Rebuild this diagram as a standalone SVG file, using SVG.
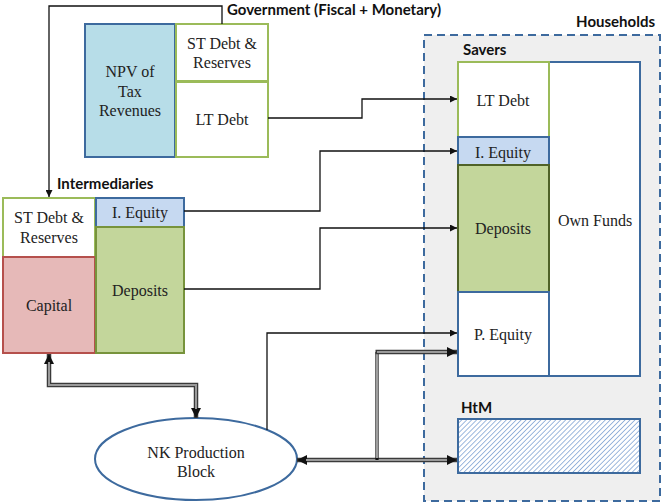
<svg xmlns="http://www.w3.org/2000/svg" width="662" height="503" viewBox="0 0 662 503">
<defs>
<style>
.lbl{font-family:Lato,"Liberation Sans",sans-serif;font-weight:700;font-size:15px;fill:#111}
.thin{fill:none;stroke:#111;stroke-width:1.3}
.dblo{fill:none;stroke:#3a3a3a;stroke-width:4.5}
.dbli{fill:none;stroke:#9a9a9a;stroke-width:2}
.blue{stroke:#3d6a9e;stroke-width:2}
.green{stroke:#9bbb59;stroke-width:2}
</style>
<marker id="a" viewBox="0 0 10 10" refX="10" refY="5" markerWidth="8" markerHeight="7" markerUnits="userSpaceOnUse" orient="auto-start-reverse"><path d="M0,0 L10,5 L0,10 z" fill="#111"/></marker>
<marker id="b" viewBox="0 0 10 10" refX="10" refY="5" markerWidth="11" markerHeight="10" markerUnits="userSpaceOnUse" orient="auto-start-reverse"><path d="M0,0 L10,5 L0,10 z" fill="#111"/></marker>
<pattern id="hatch" width="3.5" height="3.5" patternUnits="userSpaceOnUse" patternTransform="rotate(45)"><rect width="3.5" height="3.5" fill="#ffffff"/><line x1="0" y1="0" x2="0" y2="3.5" stroke="#86a8d6" stroke-width="1.6"/></pattern>
</defs>
<rect width="662" height="503" fill="#ffffff"/>

<g id="households">
<rect x="424" y="35" width="236" height="466" fill="#efefef" stroke="#3d6a9e" stroke-width="2" stroke-dasharray="8 5"/>
<text class="lbl" x="655" y="27" text-anchor="end">Households</text>
</g>

<g font-family="'Liberation Serif', 'Times New Roman', 'DejaVu Serif', serif" font-size="16" fill="#222" text-anchor="middle">
<g id="government">
<text class="lbl" x="227" y="15" text-anchor="start">Government (Fiscal + Monetary)</text>
<rect x="85" y="24" width="90" height="133" fill="#b7dde8" class="blue"/>
<text x="130" y="77">NPV of</text>
<text x="130" y="97">Tax</text>
<text x="130" y="116">Revenues</text>
<rect x="176" y="24" width="92" height="57" fill="#ffffff" class="green"/>
<text x="222" y="49">ST Debt &amp;</text>
<text x="222" y="68">Reserves</text>
<rect x="176" y="82" width="92" height="75" fill="#ffffff" class="green"/>
<text x="222" y="125">LT Debt</text>
</g>

<g id="intermediaries">
<text class="lbl" x="57" y="189" text-anchor="start">Intermediaries</text>
<rect x="3" y="198" width="92" height="59" fill="#ffffff" class="green"/>
<text x="49" y="223">ST Debt &amp;</text>
<text x="49" y="243">Reserves</text>
<rect x="3" y="257" width="92" height="96" fill="#e6b9b8" stroke="#b5504c" stroke-width="2"/>
<text x="49" y="311">Capital</text>
<rect x="96" y="198" width="88" height="29" fill="#c6d9f1" class="blue"/>
<text x="140" y="218">I. Equity</text>
<rect x="96" y="227" width="88" height="126" fill="#c3d69b" stroke="#77933c" stroke-width="2"/>
<text x="140" y="296">Deposits</text>
</g>

<g id="savers">
<text class="lbl" x="463" y="55" text-anchor="start">Savers</text>
<rect x="549" y="62" width="91" height="314" fill="#ffffff" class="blue"/>
<text x="595" y="226">Own Funds</text>
<rect x="458" y="62" width="91" height="75" fill="#ffffff" class="green"/>
<text x="503" y="106">LT Debt</text>
<rect x="458" y="137" width="91" height="28" fill="#c6d9f1" class="blue"/>
<text x="503" y="158">I. Equity</text>
<rect x="458" y="165" width="91" height="127" fill="#c3d69b" stroke="#4f6228" stroke-width="2"/>
<text x="503" y="234">Deposits</text>
<rect x="458" y="292" width="91" height="84" fill="#ffffff" class="blue"/>
<text x="503" y="340">P. Equity</text>
</g>

<g id="htm">
<text class="lbl" x="461" y="413" text-anchor="start">HtM</text>
<rect x="458" y="419" width="182" height="54" fill="url(#hatch)" class="blue"/>
</g>

<g id="nk">
<ellipse cx="196" cy="459" rx="101" ry="41" fill="#ffffff" class="blue"/>
<text x="196" y="458">NK Production</text>
<text x="196" y="477">Block</text>
</g>
</g>

<g id="connectors">
<path class="thin" d="M222,24 V6 H49 V197" marker-end="url(#a)"/>
<path class="thin" d="M268,118 H362 V99 H457" marker-end="url(#a)"/>
<path class="thin" d="M184,211 H320 V151 H457" marker-end="url(#a)"/>
<path class="thin" d="M184,289 H320 V228 H457" marker-end="url(#a)"/>
<path class="thin" d="M267,430 V333 H457" marker-end="url(#a)"/>
<path class="dblo" d="M49,354 V385 H196 V418" marker-start="url(#b)" marker-end="url(#b)"/>
<path class="dbli" d="M49,362 V385 H196 V409"/>
<path class="dblo" d="M297,460 H457" marker-start="url(#b)" marker-end="url(#b)"/>
<path class="dbli" d="M306,460 H447"/>
<path fill="none" stroke="#111" stroke-width="3.2" d="M377,460 V352"/>
<path fill="none" stroke="#ffffff" stroke-width="1.2" d="M377,458 V353"/>
<path class="dblo" d="M375.5,352 H457" marker-end="url(#b)"/>
<path class="dbli" d="M377,352 H447"/>
</g>
</svg>
